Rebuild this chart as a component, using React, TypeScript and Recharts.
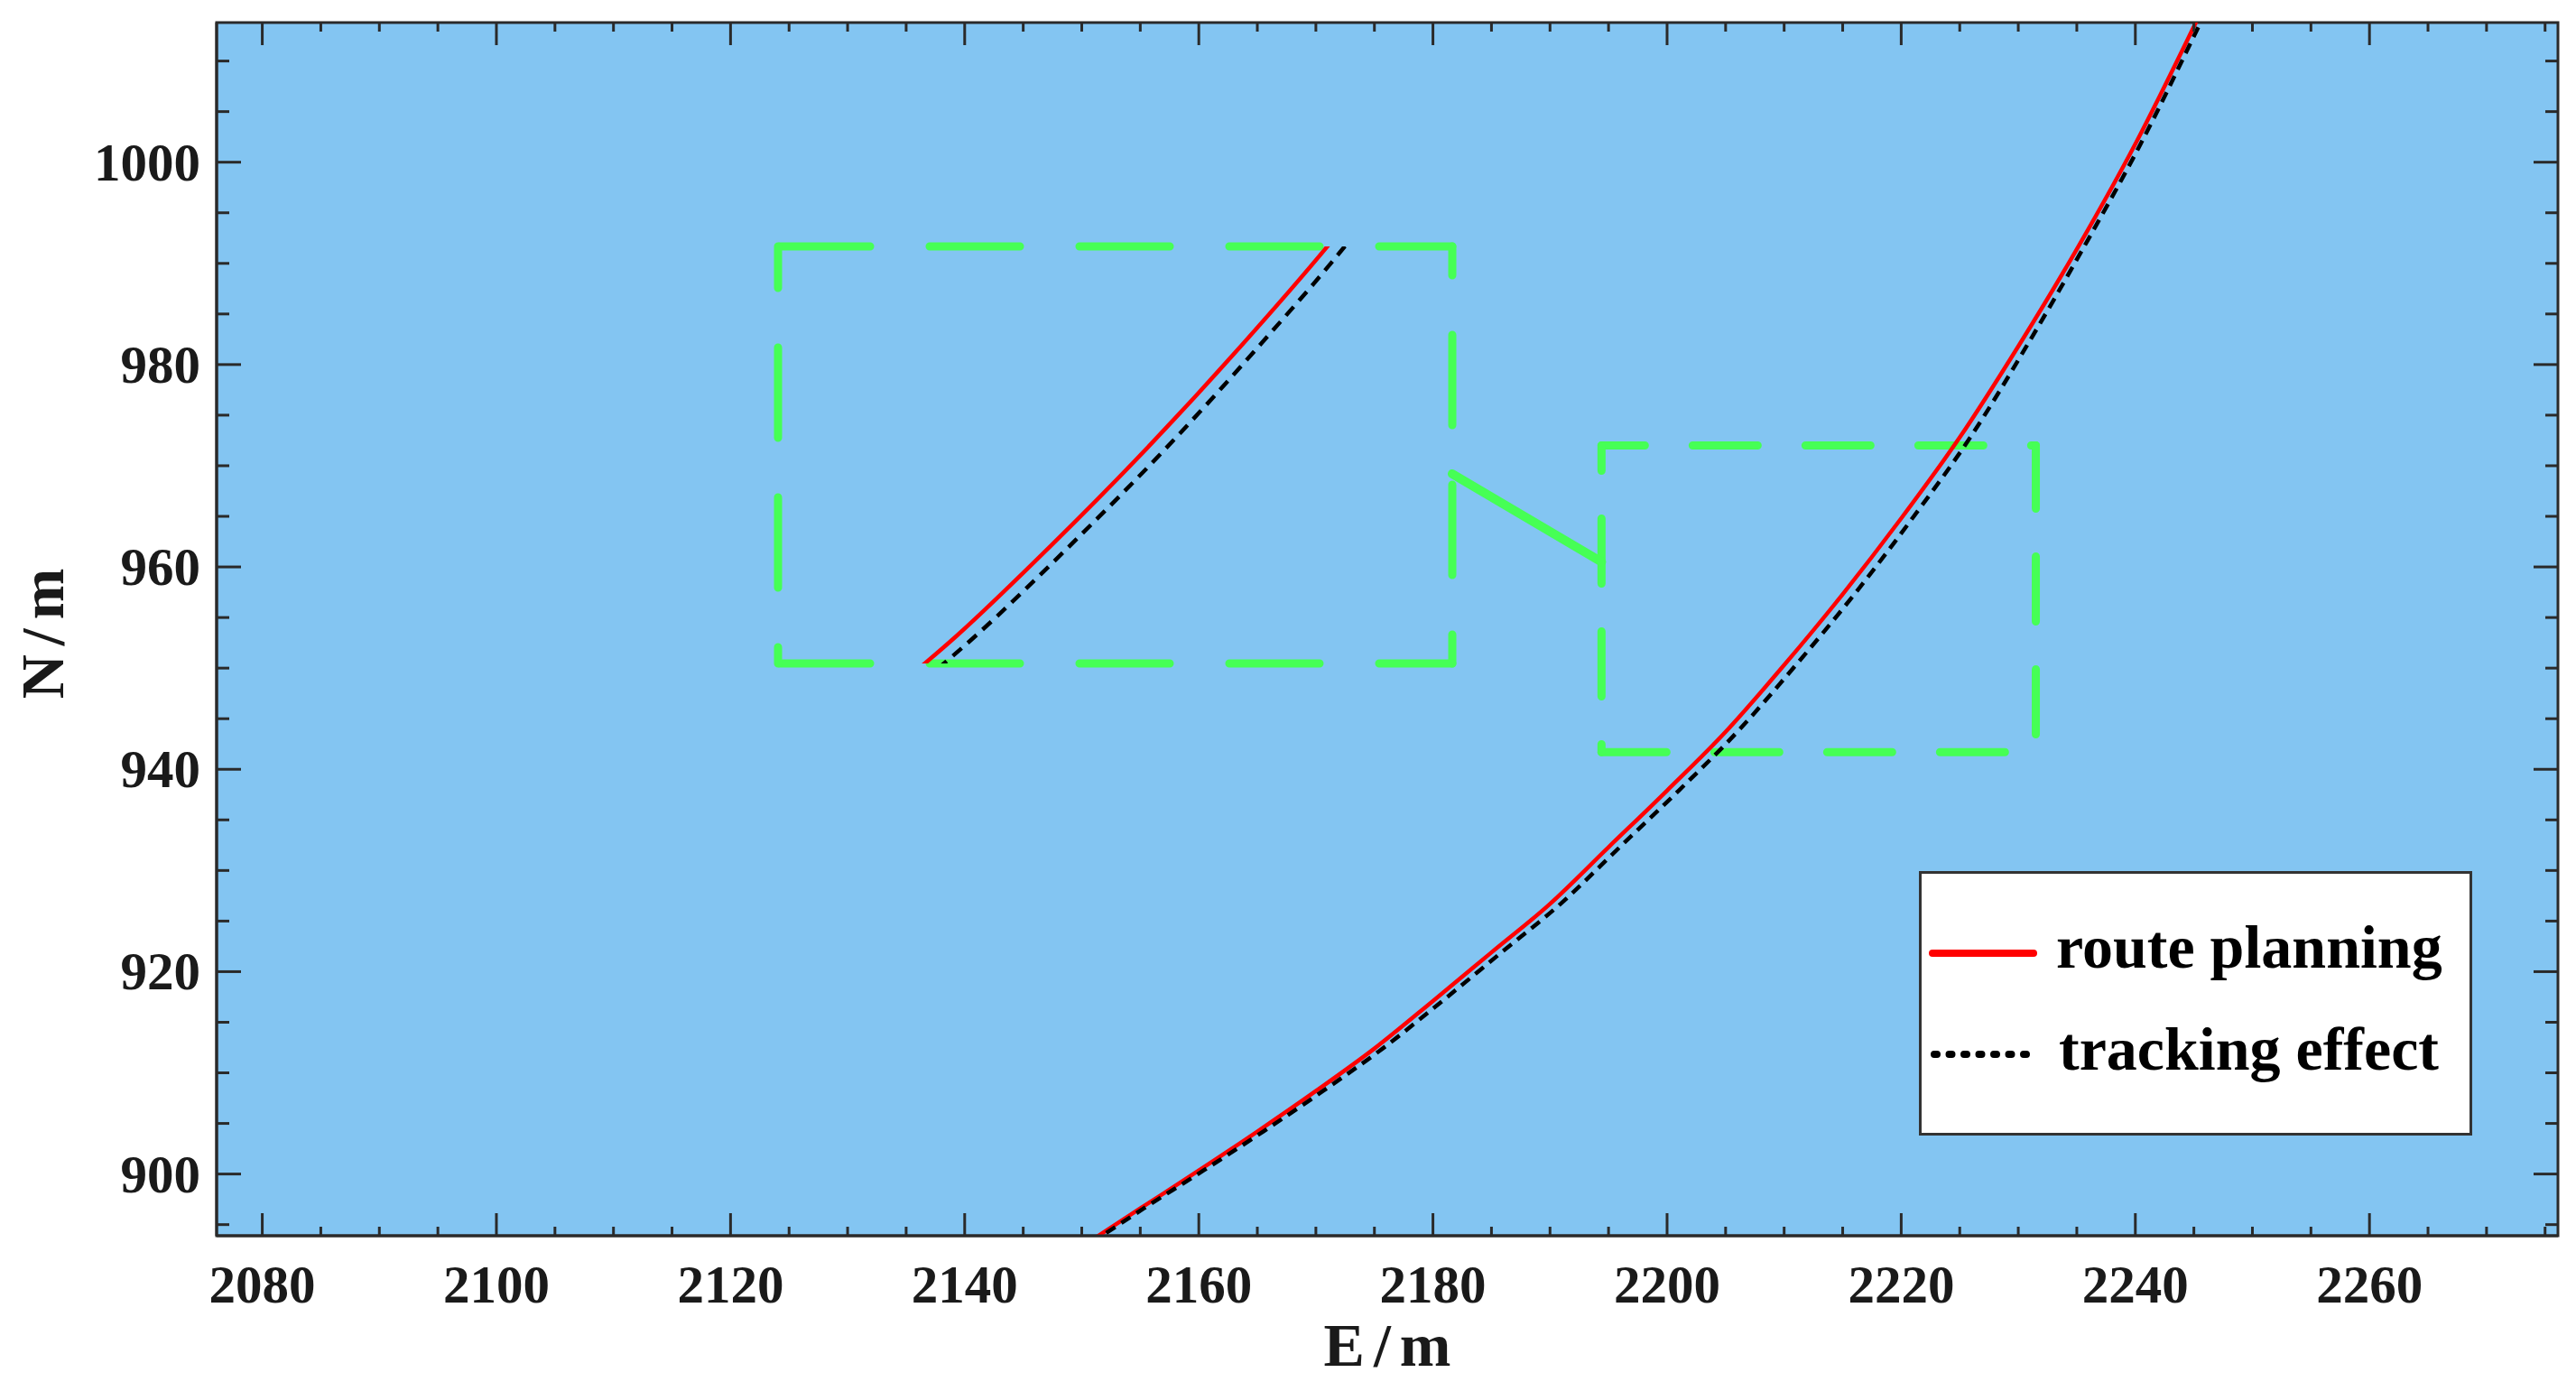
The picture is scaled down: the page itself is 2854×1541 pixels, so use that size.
import React from 'react';
import {
  LineChart,
  Line,
  XAxis,
  YAxis,
  CartesianGrid,
  ReferenceArea,
  ReferenceLine,
  Legend,
} from 'recharts';

// ---------------- data ----------------
const routeE = [2150.5, 2155, 2160, 2165, 2170, 2175, 2180, 2185, 2190, 2195, 2200, 2205, 2210, 2215, 2220, 2225, 2230, 2235, 2240, 2245, 2246.5];
const routeN = [893.2, 896.6, 900.35, 904.2, 908.2, 912.4, 917.1, 921.9, 926.7, 932.3, 937.9, 943.7, 950.3, 957.3, 964.8, 972.8, 981.8, 991.4, 1001.8, 1013.4, 1017];

const trackE = [2150.8, 2155.3, 2160.4, 2165.5, 2170.6, 2175.7, 2180.8, 2185.85, 2190.9, 2195.95, 2201.0, 2206.0, 2211.0, 2216.0, 2220.95, 2225.9, 2230.7, 2235.5, 2240.45, 2245.4, 2246.9];
const trackN = [893.2, 896.6, 900.35, 904.2, 908.2, 912.4, 917.1, 921.9, 926.7, 932.3, 937.9, 943.7, 950.3, 957.3, 964.8, 972.8, 981.8, 991.4, 1001.8, 1013.4, 1017];

const X_LABELS = [2080, 2100, 2120, 2140, 2160, 2180, 2200, 2220, 2240, 2260];
const Y_LABELS = [900, 920, 940, 960, 980, 1000];
const X_DOMAIN: [number, number] = [2076.1, 2276.1];
const Y_DOMAIN: [number, number] = [893.9, 1013.8];

// zoom window (main axes) and inset view window
const ZOOM_E: [number, number] = [2194.4, 2231.5];
const ZOOM_N: [number, number] = [941.7, 972.0];
const INSET_E: [number, number] = [2195.6, 2231.1];
const INSET_N: [number, number] = [941.7, 972.0];
const LINK_E: [number, number] = [2181.65, 2194.4];
const LINK_N: [number, number] = [969.2, 960.5];

const SERIES_NAMES = ['route planning', 'tracking effect'];

const routeData = routeE.map((e, i) => ({ E: e, N: routeN[i] }));
const trackData = trackE.map((e, i) => ({ E: e, N: trackN[i] }));

const stepTicks = (step: number, lo: number, hi: number) => {
  const out: number[] = [];
  const start = Math.ceil(lo / step) * step;
  for (let v = start; v <= hi + 1e-9; v += step) out.push(Math.round(v * 100) / 100);
  return out;
};
const X_TICKS = stepTicks(5, X_DOMAIN[0], X_DOMAIN[1]);
const Y_TICKS = stepTicks(5, Y_DOMAIN[0], Y_DOMAIN[1]);

// ---------------- styles ----------------
const W = 2854;
const H = 1541;
const PL = 240;
const PR = 2834;
const PT = 25;
const PB = 1369;
const AXIS = '#2a2a2a';
const BG = '#83C5F2';
const GREEN = '#46FF55';
const FONT = '"Liberation Serif", "Times New Roman", serif';
const TICK_FS = 59;

// bottom tick also draws the mirrored tick on the top edge of the box
const BottomTick = (p: any) => {
  const v = p.payload.value;
  const x = p.x;
  const major = X_LABELS.includes(v);
  const len = major ? 25 : 10;
  return (
    <g>
      <line x1={x} x2={x} y1={PB} y2={PB - len} stroke={AXIS} strokeWidth={3} />
      <line x1={x} x2={x} y1={PT} y2={PT + len} stroke={AXIS} strokeWidth={3} />
      {major && (
        <text x={x} y={1443} textAnchor="middle" fontFamily={FONT} fontWeight="bold" fontSize={TICK_FS} fill="#1a1a1a">
          {v}
        </text>
      )}
    </g>
  );
};

// left tick also draws the mirrored tick on the right edge of the box
const LeftTick = (p: any) => {
  const v = p.payload.value;
  const y = p.y;
  const major = Y_LABELS.includes(v);
  const len = major ? 27 : 14;
  return (
    <g>
      <line x1={PL} x2={PL + len} y1={y} y2={y} stroke={AXIS} strokeWidth={3} />
      <line x1={PR} x2={PR - len} y1={y} y2={y} stroke={AXIS} strokeWidth={3} />
      {major && (
        <text x={222} y={y + 20} textAnchor="end" fontFamily={FONT} fontWeight="bold" fontSize={TICK_FS} fill="#1a1a1a">
          {v}
        </text>
      )}
    </g>
  );
};

const LegendBox = () => (
  <div
    style={{
      width: 613,
      height: 293,
      boxSizing: 'border-box',
      border: '3px solid #333',
      background: '#fff',
    }}
  >
    <svg width={607} height={287} style={{ display: 'block' }}>
      <line x1={12} x2={124} y1={88} y2={88} stroke="#ff0000" strokeWidth={8} strokeLinecap="round" />
      <text x={149} y={104} fontFamily={FONT} fontWeight="bold" fontSize={68} fill="#000">
        {SERIES_NAMES[0]}
      </text>
      <line x1={14} x2={126} y1={200} y2={200} stroke="#000" strokeWidth={8} strokeLinecap="round" strokeDasharray="3 13.5" />
      <text x={152} y={217} fontFamily={FONT} fontWeight="bold" fontSize={68} fill="#000">
        {SERIES_NAMES[1]}
      </text>
    </svg>
  </div>
);

// dashed rectangle drawn as four edges, each with its own dash phase
const boxEdges = (
  ex: [number, number],
  ny: [number, number],
  dash: string,
  offsets: [number, number, number, number],
  ids: any
) => {
  const [x0, x1] = ex;
  const [y0, y1] = ny;
  const segs = [
    [{ x: x0, y: y1 }, { x: x1, y: y1 }], // top, left -> right
    [{ x: x1, y: y1 }, { x: x1, y: y0 }], // right, top -> bottom
    [{ x: x0, y: y0 }, { x: x1, y: y0 }], // bottom, left -> right
    [{ x: x0, y: y1 }, { x: x0, y: y0 }], // left, top -> bottom
  ];
  return segs.map((s, i) => (
    <ReferenceLine
      key={`edge-${i}`}
      {...ids}
      segment={s}
      stroke={GREEN}
      strokeWidth={9}
      strokeDasharray={dash}
      strokeDashoffset={offsets[i]}
      strokeLinecap="round"
      ifOverflow="visible"
    />
  ));
};

export default function App() {
  return (
    <div style={{ position: 'absolute', left: 0, top: 0, width: W, height: H, background: '#fff' }}>
      <div style={{ position: 'absolute', left: 0, top: 0 }}>
        <LineChart width={W} height={H} margin={{ top: PT, right: W - PR, bottom: 0, left: 0 }}>
          <CartesianGrid fill={BG} stroke="none" horizontal={false} vertical={false} />
          <XAxis
            type="number"
            dataKey="E"
            domain={X_DOMAIN}
            allowDataOverflow
            ticks={X_TICKS}
            interval={0}
            orientation="bottom"
            height={H - PB}
            axisLine={{ stroke: AXIS, strokeWidth: 3 }}
            tickLine={false}
            tick={BottomTick}
            label={{
              content: () => (
                <text x={(PL + PR) / 2 + 5} y={1513} textAnchor="middle" fontFamily={FONT} fontWeight="bold" fontSize={68} letterSpacing={10} fill="#1a1a1a">
                  E/m
                </text>
              ),
            }}
          />
          <YAxis
            type="number"
            dataKey="N"
            domain={Y_DOMAIN}
            allowDataOverflow
            ticks={Y_TICKS}
            interval={0}
            orientation="left"
            width={PL}
            axisLine={{ stroke: AXIS, strokeWidth: 3 }}
            tickLine={false}
            tick={LeftTick}
            label={{
              content: () => (
                <text
                  x={70}
                  y={697}
                  transform="rotate(-90, 70, 697)"
                  textAnchor="middle"
                  fontFamily={FONT}
                  fontWeight="bold"
                  fontSize={68}
                  letterSpacing={10}
                  fill="#1a1a1a"
                >
                  N/m
                </text>
              ),
            }}
          />
          <ReferenceArea
            x1={X_DOMAIN[0]}
            x2={X_DOMAIN[1]}
            y1={Y_DOMAIN[0]}
            y2={Y_DOMAIN[1]}
            fill="none"
            fillOpacity={0}
            stroke={AXIS}
            strokeWidth={3}
            ifOverflow="visible"
          />
          {boxEdges(ZOOM_E, ZOOM_N, '72 53', [24, 2, 0, 44], {})}
          <ReferenceLine
            segment={[
              { x: LINK_E[0], y: LINK_N[0] },
              { x: LINK_E[1], y: LINK_N[1] },
            ]}
            stroke={GREEN}
            strokeWidth={10}
            strokeLinecap="round"
            ifOverflow="visible"
          />
          <Line
            data={routeData}
            dataKey="N"
            name={SERIES_NAMES[0]}
            type="monotone"
            stroke="#ff0000"
            strokeWidth={4.5}
            dot={false}
            activeDot={false}
            isAnimationActive={false}
          />
          <Line
            data={trackData}
            dataKey="N"
            name={SERIES_NAMES[1]}
            type="monotone"
            stroke="#000"
            strokeWidth={4.5}
            strokeDasharray="12 8"
            dot={false}
            activeDot={false}
            isAnimationActive={false}
          />
          <Legend
            layout="horizontal"
            verticalAlign="middle"
            align="center"
            content={<LegendBox />}
            wrapperStyle={{ position: 'absolute', left: 2126, top: 965, width: 613, height: 293 }}
          />
        </LineChart>
      </div>
      <div style={{ position: 'absolute', left: 850, top: 261 }}>
        <LineChart width={771} height={486} margin={{ top: 12, right: 12, bottom: 12, left: 12 }}>
          <XAxis type="number" dataKey="E" domain={INSET_E} allowDataOverflow hide />
          <YAxis type="number" dataKey="N" domain={INSET_N} allowDataOverflow hide />
          {boxEdges(INSET_E, INSET_N, '100 66', [-2, 68, -2, 54], {})}
          <Line
            data={routeData}
            dataKey="N"
            type="monotone"
            stroke="#ff0000"
            strokeWidth={4.5}
            dot={false}
            activeDot={false}
            isAnimationActive={false}
          />
          <Line
            data={trackData}
            dataKey="N"
            type="monotone"
            stroke="#000"
            strokeWidth={4.5}
            strokeDasharray="13 9"
            dot={false}
            activeDot={false}
            isAnimationActive={false}
          />
        </LineChart>
      </div>
    </div>
  );
}
